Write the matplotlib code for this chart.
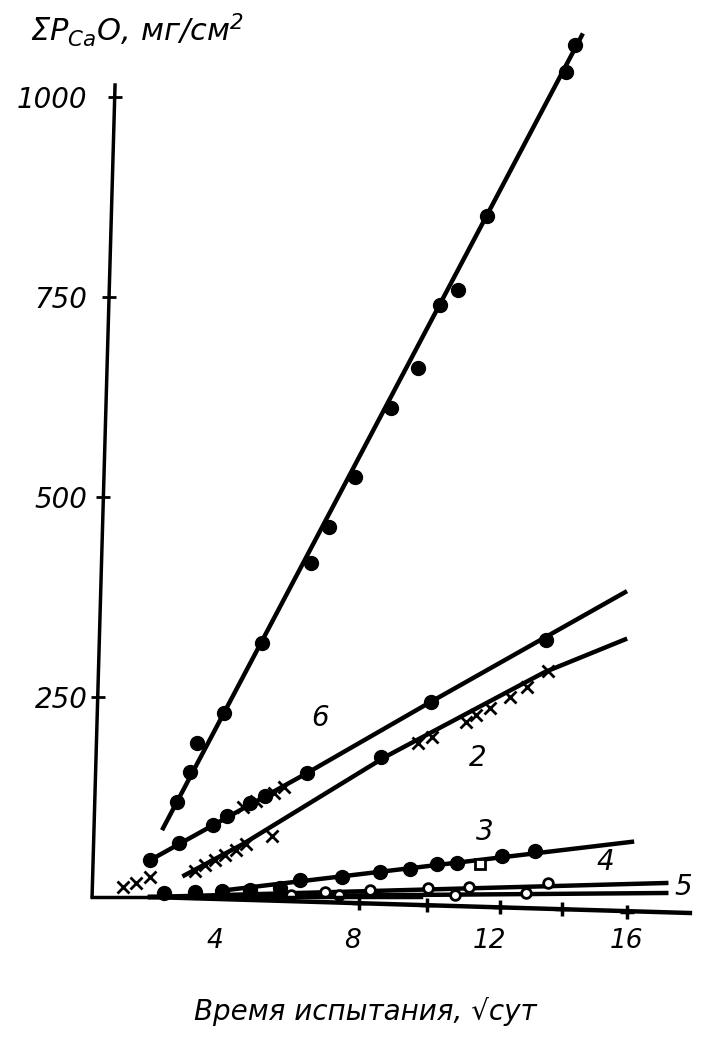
import matplotlib
matplotlib.use("Agg")
import matplotlib.pyplot as plt
import numpy as np

plt.rcParams['font.family'] = ['DejaVu Sans']
plt.rcParams['font.style'] = 'italic'
plt.rcParams['mathtext.default'] = 'it'

# Curve 1 (steep, filled dots)
c1_x = [2.89, 3.27, 3.47, 4.26, 5.36, 6.79, 7.32, 8.08, 9.13, 9.91, 10.55, 11.08, 11.92, 14.23, 14.49]
c1_y = [119, 156, 192, 230, 317, 417, 462, 525, 611, 661, 740, 759, 851, 1031, 1065]
c1_line_x = [2.48, 14.69]
c1_line_y = [86, 1077]

# Curve 6 (dots + crosses)
c6_x = [2.1, 2.95, 3.95, 4.35, 5.0, 5.45, 6.68, 10.29, 13.65]
c6_y = [46, 67, 90, 101, 118, 126, 155, 244, 321]
c6_cross_x = [4.8, 5.2, 5.7, 6.0]
c6_cross_y = [112, 120, 130, 137]
c6_line_x = [2.1, 6.68, 10.29, 15.95]
c6_line_y = [46, 155, 244, 381]

# Curve 2 (crosses + one dot)
c2_x = [1.3, 1.7, 2.1, 3.4, 3.7, 4.0, 4.3, 4.6, 4.9, 5.66, 9.91, 10.32, 11.3, 11.6, 12.0, 12.6, 13.1, 13.7]
c2_y = [12, 18, 25, 33, 40, 46, 53, 59, 66, 76, 192, 200, 219, 227, 236, 250, 262, 283]
c2_dot_x = [8.83]
c2_dot_y = [175]
c2_line_x = [3.1, 4.8, 8.95, 13.6, 15.95]
c2_line_y = [27, 66, 175, 281, 322]

# Curve 3 (filled dots, one open square)
c3_x = [2.5, 3.4, 4.2, 5.0, 5.9, 6.47, 7.7, 8.8, 9.68, 10.47, 11.05, 12.36, 13.32]
c3_y = [5, 6, 8, 9, 11, 21, 25, 31, 35, 41, 42.5, 51, 57.5]
c3_sq_x = [11.72]
c3_sq_y = [41]
c3_line_x = [4.2, 16.15]
c3_line_y = [8, 69]

# Curve 4 (open circles)
c4_x = [7.2, 8.5, 10.2, 11.4, 13.7]
c4_y = [6, 9, 11, 12.5, 17.5]
c4_line_x = [2.1, 17.15]
c4_line_y = [0, 17.5]

# Curve 5 (open circles)
c5_x = [6.2, 7.6, 11.0, 13.06]
c5_y = [2, 2.5, 2.5, 5]
c5_line_x = [2.1, 17.15]
c5_line_y = [0, 5]

# Bottom curve (plus markers)
c7_x = [8.2, 10.17, 12.3, 14.1, 16.0]
c7_y = [-7, -10, -12.5, -15, -19]
c7_line_x = [2.1, 17.84]
c7_line_y = [0, -20]

curve_labels = ['6', '2', '3', '4', '5']
label_x = [7.05, 11.66, 11.87, 15.36, 17.64]
label_y = [224, 174, 81, 44, 12.5]

x_ticks = [4, 8, 12, 16]
y_ticks = [250, 500, 750, 1000]

fig = plt.figure(figsize=(7.18, 10.5), dpi=100)
ax = fig.add_axes([0, 0, 1, 1])
ax.set_xlim(-78 / 34.3, (718 - 78) / 34.3)
ax.set_ylim(-(1050 - 897) * 1.25, 897 * 1.25)
ax.patch.set_alpha(0)

lw = 3.2
k = 'black'
ax.plot(c1_line_x, c1_line_y, color=k, lw=lw)
ax.plot(c6_line_x, c6_line_y, color=k, lw=lw)
ax.plot(c2_line_x, c2_line_y, color=k, lw=lw)
ax.plot(c3_line_x, c3_line_y, color=k, lw=lw)
ax.plot(c4_line_x, c4_line_y, color=k, lw=lw)
ax.plot(c5_line_x, c5_line_y, color=k, lw=lw)
ax.plot(c7_line_x, c7_line_y, color=k, lw=lw)

ax.plot(c1_x, c1_y, 'o', color=k, ms=10)
ax.plot(c6_x, c6_y, 'o', color=k, ms=10)
ax.plot(c6_cross_x, c6_cross_y, 'x', color=k, ms=8, mew=2)
ax.plot(c2_x, c2_y, 'x', color=k, ms=8, mew=2)
ax.plot(c2_dot_x, c2_dot_y, 'o', color=k, ms=10)
ax.plot(c3_x, c3_y, 'o', color=k, ms=10)
ax.plot(c3_sq_x, c3_sq_y, 's', mfc='white', mec=k, ms=7, mew=2)
ax.plot(c4_x, c4_y, 'o', mfc='white', mec=k, ms=7, mew=2)
ax.plot(c5_x, c5_y, 'o', mfc='white', mec=k, ms=7, mew=2)
ax.plot(c7_x, c7_y, '+', color=k, ms=10, mew=2.5)

for t, lx, ly in zip(curve_labels, label_x, label_y):
    ax.text(lx, ly, t, fontsize=20, ha='center', va='center')

# hand-drawn, slightly tilted y axis
ax_bot_x, ax_top_x, ax_top_y = 0.41, 1.08, 1015
ax.plot([ax_bot_x, ax_top_x], [0, ax_top_y], color=k, lw=2.5)
tick_x = [ax_bot_x + (ax_top_x - ax_bot_x) * v / ax_top_y for v in y_ticks]
ax.plot(tick_x, y_ticks, '_', color=k, ms=10, mew=2)

for s in ['top', 'right', 'left']:
    ax.spines[s].set_visible(False)
ax.spines['left'].set_position(('data', 0.64))
ax.spines['bottom'].set_position(('data', 0))
ax.spines['bottom'].set_bounds(0.41, 10)
ax.spines['bottom'].set_linewidth(2.5)

ax.set_xticks(x_ticks)
ax.set_xticklabels([str(v) for v in x_ticks])
ax.set_yticks(y_ticks)
ax.set_yticklabels([str(v) for v in y_ticks])
ax.tick_params(axis='x', length=0, pad=22, labelsize=19)
ax.tick_params(axis='y', length=0, pad=9, labelsize=20)

fig.text(30 / 718, 1 - 30 / 1050, r"ΣP$_{Ca}$O, мг/см$^2$", fontsize=22, ha='left', va='center')
fig.text(365 / 718, 1 - 1012 / 1050, "Время испытания, √сут", fontsize=20, ha='center', va='center')

fig.savefig("out.png", dpi=100, facecolor='white')
